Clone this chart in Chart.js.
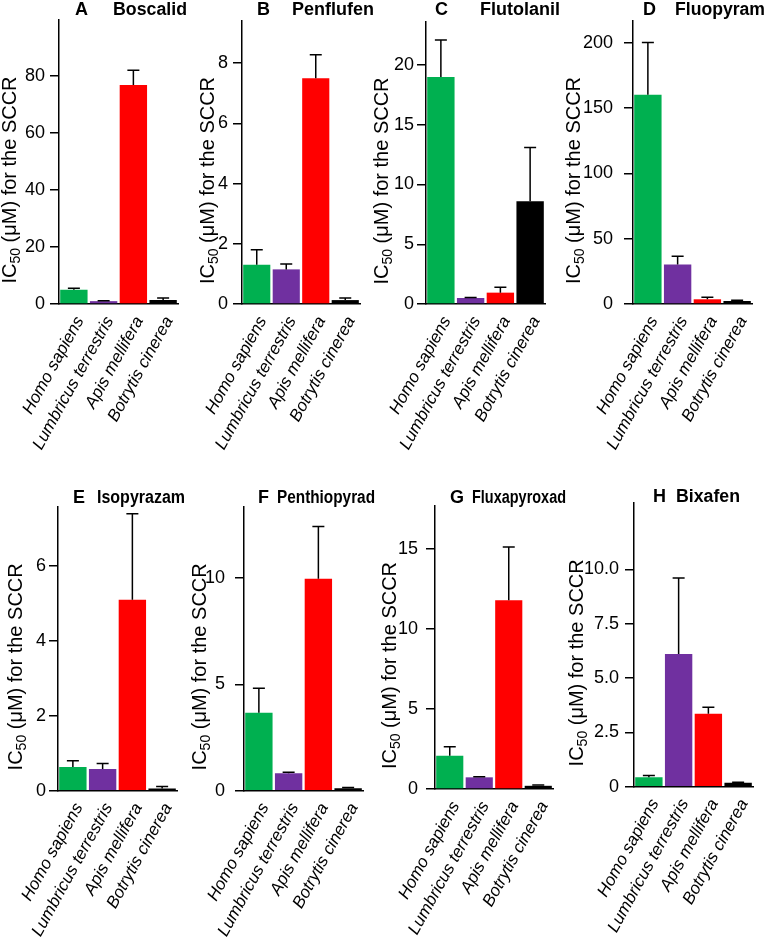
<!DOCTYPE html>
<html>
<head>
<meta charset="utf-8">
<script src="https://cdn.jsdelivr.net/npm/chart.js@4.4.1/dist/chart.umd.min.js"></script>
<style>
  html, body { margin: 0; padding: 0; background: #fff; }
  body { width: 766px; height: 938px; position: relative; overflow: hidden; }
  canvas { position: absolute; }
</style>
</head>
<body>
<script>
// categories and colours
const species = ['Homo sapiens', 'Lumbricus terrestris', 'Apis mellifera', 'Botrytis cinerea'];
const barColors = ['#00b050', '#7030a0', '#ff0000', '#000000'];

const panelLetters = ['A', 'B', 'C', 'D', 'E', 'F', 'G', 'H'];
const compounds = ['Boscalid', 'Penflufen', 'Flutolanil', 'Fluopyram',
  'Isopyrazam', 'Penthiopyrad', 'Fluxapyroxad', 'Bixafen'];

// IC50 (µM) means and error (SD) per compound, in species order
const boscalid = [5.0, 1.0, 76.8, 1.4];
const boscalidSd = [0.5, 0.1, 5.2, 0.7];
const penflufen = [1.3, 1.15, 7.5, 0.13];
const penflufenSd = [0.5, 0.18, 0.78, 0.07];
const flutolanil = [19.0, 0.5, 0.95, 8.6];
const flutolanilSd = [3.1, 0.05, 0.45, 4.5];
const fluopyram = [160, 30.3, 3.6, 2.3];
const fluopyramSd = [40, 6.3, 1.5, 0.5];
const isopyrazam = [0.63, 0.58, 5.1, 0.06];
const isopyrazamSd = [0.17, 0.15, 2.3, 0.05];
const penthiopyrad = [3.67, 0.82, 9.97, 0.12];
const penthiopyradSd = [1.15, 0.05, 2.45, 0.03];
const fluxapyroxad = [2.08, 0.73, 11.8, 0.2];
const fluxapyroxadSd = [0.56, 0.03, 3.33, 0.05];
const bixafen = [0.43, 6.1, 3.35, 0.18];
const bixafenSd = [0.09, 3.5, 0.3, 0.03];

// y axis ticks per panel
const ticksA = [0, 20, 40, 60, 80];
const ticksB = [0, 2, 4, 6, 8];
const ticksC = [0, 5, 10, 15, 20];
const ticksD = [0, 50, 100, 150, 200];
const ticksE = [0, 2, 4, 6];
const ticksF = [0, 5, 10];
const ticksG = [0, 5, 10, 15];
const ticksH = [0, 2.5, 5, 7.5, 10];
const tickLabelsH = ['0', '2.5', '5.0', '7.5', '10.0'];

const yTitle = ['IC', '50', ' (μM) for the SCCR'];

const means = [boscalid, penflufen, flutolanil, fluopyram, isopyrazam, penthiopyrad, fluxapyroxad, bixafen];
const errors = [boscalidSd, penflufenSd, flutolanilSd, fluopyramSd, isopyrazamSd, penthiopyradSd, fluxapyroxadSd, bixafenSd];
const yTicks = [ticksA, ticksB, ticksC, ticksD, ticksE, ticksF, ticksG, ticksH];
const yTickLabels = [null, null, null, null, null, null, null, tickLabelsH];
const yMax = [99.6, 9.4, 23.6, 216.5, 7.58, 13.34, 17.7, 13.05];

// page layout of each panel (pixels)
const layout = [
  { left: 0,   top: 0,   w: 195, h: 460, axisX: 59,  plotRight: 178, plotTop: 20,  zeroY: 304,   tickPad: 5,  titleCx: 9,   titleY: 10,  letterX: 75,  nameX: 113, nameW: 74 },
  { left: 190, top: 0,   w: 188, h: 460, axisX: 242, plotRight: 360, plotTop: 21,  zeroY: 304,   tickPad: 5,  titleCx: 207, titleY: 10,  letterX: 257, nameX: 292, nameW: 82 },
  { left: 368, top: 0,   w: 198, h: 460, axisX: 426, plotRight: 545, plotTop: 22,  zeroY: 304,   tickPad: 3,  titleCx: 381, titleY: 10,  letterX: 435, nameX: 480, nameW: 81 },
  { left: 560, top: 0,   w: 206, h: 460, axisX: 633, plotRight: 752, plotTop: 21,  zeroY: 304,   tickPad: 11, titleCx: 573, titleY: 10,  letterX: 643, nameX: 675, nameW: 90 },
  { left: 0,   top: 460, w: 190, h: 478, axisX: 58,  plotRight: 177, plotTop: 507, zeroY: 790.7, tickPad: 3,  titleCx: 15,  titleY: 498, letterX: 73,  nameX: 97,  nameW: 88 },
  { left: 185, top: 460, w: 193, h: 478, axisX: 244, plotRight: 363, plotTop: 507, zeroY: 790.7, tickPad: 10, titleCx: 199, titleY: 498, letterX: 258, nameX: 277, nameW: 98 },
  { left: 375, top: 460, w: 195, h: 478, axisX: 435, plotRight: 553, plotTop: 506, zeroY: 789,   tickPad: 8,  titleCx: 389, titleY: 498, letterX: 450, nameX: 472, nameW: 94 },
  { left: 566, top: 460, w: 200, h: 478, axisX: 634, plotRight: 753, plotTop: 503, zeroY: 786.7, tickPad: 6,  titleCx: 576, titleY: 497, letterX: 653, nameX: 676, nameW: 64 },
];

const FONT = '"Liberation Sans", Arial, Helvetica, sans-serif';
Chart.defaults.font.family = FONT;
Chart.defaults.color = '#000';

const errorBars = {
  id: 'errorBars',
  afterDatasetsDraw(chart, args, opts) {
    const ctx = chart.ctx;
    const y = chart.scales.y;
    const meta = chart.getDatasetMeta(0);
    ctx.save();
    ctx.strokeStyle = '#000';
    ctx.lineWidth = 1.5;
    meta.data.forEach((bar, k) => {
      const top = y.getPixelForValue(opts.means[k] + opts.sd[k]);
      ctx.beginPath();
      ctx.moveTo(bar.x, bar.y);
      ctx.lineTo(bar.x, top);
      ctx.moveTo(bar.x - 6, top);
      ctx.lineTo(bar.x + 6, top);
      ctx.stroke();
    });
    ctx.restore();
  }
};

const panelTitle = {
  id: 'panelTitle',
  afterDraw(chart, args, opts) {
    const ctx = chart.ctx;
    ctx.save();
    ctx.fillStyle = '#000';
    ctx.textBaseline = 'middle';
    ctx.font = 'bold 18px ' + FONT;
    ctx.fillText(opts.letter, opts.letterX, opts.y);
    ctx.fillText(opts.name, opts.nameX, opts.y, opts.nameW);
    ctx.restore();
  }
};

const axisTitle = {
  id: 'axisTitle',
  afterDraw(chart, args, opts) {
    const ctx = chart.ctx;
    const area = chart.chartArea;
    const big = '20px ' + FONT;
    const small = '14px ' + FONT;
    ctx.save();
    ctx.fillStyle = '#000';
    ctx.translate(opts.x, (area.top + area.bottom) / 2 + opts.dy);
    ctx.rotate(-Math.PI / 2);
    ctx.font = big;
    const w1 = ctx.measureText(yTitle[0]).width;
    const w3 = ctx.measureText(yTitle[2]).width;
    ctx.font = small;
    const w2 = ctx.measureText(yTitle[1]).width;
    let x = -(w1 + w2 + w3) / 2;
    ctx.font = big;
    ctx.fillText(yTitle[0], x, 7);
    x += w1;
    ctx.font = small;
    ctx.fillText(yTitle[1], x, 11);
    x += w2;
    ctx.font = big;
    ctx.fillText(yTitle[2], x, 7);
    ctx.restore();
  }
};

function makePanel(i) {
  const p = layout[i];
  const canvas = document.createElement('canvas');
  canvas.width = p.w;
  canvas.height = p.h;
  canvas.style.left = p.left + 'px';
  canvas.style.top = p.top + 'px';
  canvas.style.width = p.w + 'px';
  canvas.style.height = p.h + 'px';
  document.body.appendChild(canvas);

  new Chart(canvas, {
    type: 'bar',
    data: {
      labels: species,
      datasets: [{
        data: means[i],
        backgroundColor: barColors,
        borderWidth: 0,
        barPercentage: 0.92,
        categoryPercentage: 1,
      }],
    },
    options: {
      responsive: false,
      animation: false,
      devicePixelRatio: 1,
      layout: {
        padding: { top: p.plotTop - p.top, right: p.left + p.w - p.plotRight, bottom: 0, left: 0 },
      },
      plugins: {
        legend: { display: false },
        tooltip: { enabled: false },
        errorBars: { means: means[i], sd: errors[i] },
        panelTitle: {
          letter: panelLetters[i], name: compounds[i],
          letterX: p.letterX - p.left, nameX: p.nameX - p.left, nameW: p.nameW, y: p.titleY - p.top,
        },
        axisTitle: { x: p.titleCx - p.left, dy: 18 },
      },
      scales: {
        x: {
          grid: { display: false, drawTicks: false },
          border: { color: '#000', width: 1.5 },
          ticks: {
            autoSkip: false,
            minRotation: 61,
            maxRotation: 61,
            padding: 9,
            labelOffset: 6,
            font: { size: 17, style: 'italic' },
            color: '#000',
          },
          afterFit(s) {
            s.height = p.top + p.h - p.zeroY;
            s.paddingLeft = 0;
            s.paddingRight = 0;
          },
        },
        y: {
          min: 0,
          max: yMax[i],
          grid: { drawOnChartArea: false, drawTicks: true, tickLength: 9, color: '#000', lineWidth: 1.5 },
          border: { color: '#000', width: 1.5 },
          ticks: {
            padding: p.tickPad,
            font: { size: 18 },
            color: '#000',
            callback: (v, idx) => (yTickLabels[i] ? yTickLabels[i][idx] : String(v)),
          },
          afterBuildTicks(s) {
            s.ticks = yTicks[i].map((v) => ({ value: v }));
          },
          afterFit(s) {
            s.width = p.axisX - p.left;
            s.paddingTop = 0;
            s.paddingBottom = 0;
          },
        },
      },
    },
    plugins: [errorBars, panelTitle, axisTitle],
  });
}

for (let i = 0; i < 8; i++) makePanel(i);
</script>
</body>
</html>
